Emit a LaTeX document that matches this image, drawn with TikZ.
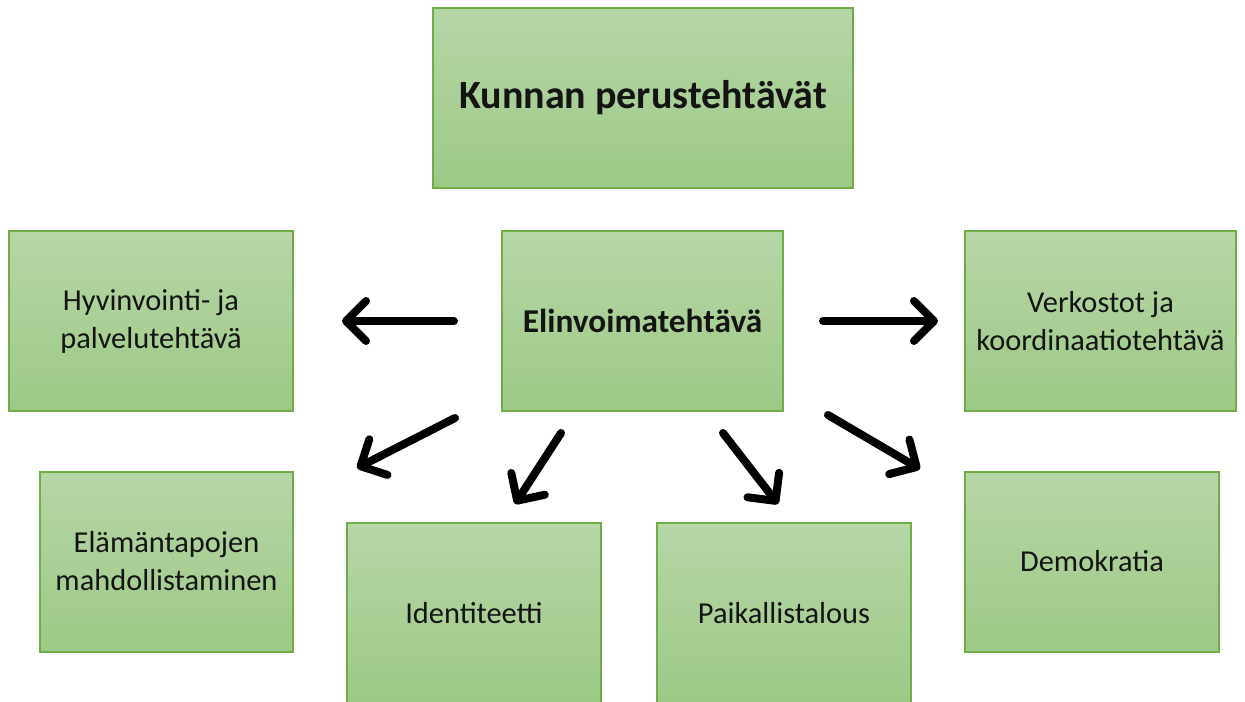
\documentclass[tikz,border=0pt]{standalone}
\usepackage{fontspec}
\setmainfont{Carlito}
\usetikzlibrary{arrows.meta}
\definecolor{boxtop}{RGB}{183,214,167}
\definecolor{boxbot}{RGB}{157,201,134}
\definecolor{boxline}{RGB}{112,173,71}
\definecolor{txt}{RGB}{20,20,20}
\tikzset{
  box/.style={draw=boxline, line width=1.5pt, top color=boxtop, bottom color=boxbot,
    minimum width=#1, minimum height=135pt, inner sep=0pt, align=center,
    font=\fontsize{22.8pt}{28.5pt}\selectfont, text=txt},
  box/.default=210pt,
  arr/.style={line width=6pt, line cap=round, -{Straight Barb[length=15pt, width=30pt, line cap=round, line join=round]}}
}
\begin{document}
\begin{tikzpicture}[x=0.75pt, y=-0.75pt]
\useasboundingbox (0,0) rectangle (1245,701);
\node[box=315pt, font=\bfseries\fontsize{30pt}{36pt}\selectfont] (top) at (643,98) {Kunnan perustehtävät};
\node[box=213pt] (hyv) at (151,321) {Hyvinvointi- ja\\palvelutehtävä};
\node[box=211pt, font=\bfseries\fontsize{25pt}{30pt}\selectfont] (eli) at (642.5,321) {Elinvoimatehtävä};
\node[box=203pt] (ver) at (1100.5,321) {Verkostot ja\\koordinaatiotehtävä};
\node[box=190pt] (ela) at (166.5,561.5) {Elämäntapojen\\mahdollistaminen};
\node[box=190pt] (ide) at (474,613) {Identiteetti};
\node[box=190pt] (pai) at (784,613) {Paikallistalous};
\node[box=190pt] (dem) at (1092,561.5) {Demokratia};
\coordinate (a1s) at (454,321); \coordinate (a1e) at (342,321);
\coordinate (a2s) at (823,321); \coordinate (a2e) at (938,321);
\coordinate (a3s) at (455,418); \coordinate (a3e) at (357,468);
\coordinate (a4s) at (561,433); \coordinate (a4e) at (515,504);
\coordinate (a5s) at (723,433); \coordinate (a5e) at (778,504);
\coordinate (a6s) at (828,415); \coordinate (a6e) at (920,469);
\draw[arr] (a1s) -- (a1e);
\draw[arr] (a2s) -- (a2e);
\draw[arr] (a3s) -- (a3e);
\draw[arr] (a4s) -- (a4e);
\draw[arr] (a5s) -- (a5e);
\draw[arr] (a6s) -- (a6e);
\end{tikzpicture}
\end{document}
